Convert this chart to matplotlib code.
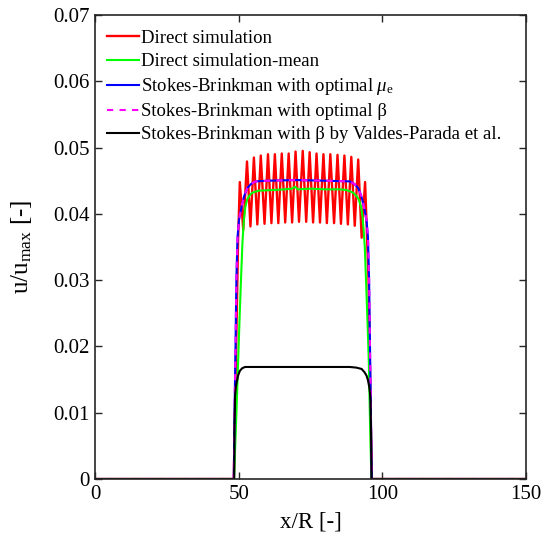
import matplotlib
matplotlib.use("Agg")
import matplotlib.pyplot as plt
from matplotlib.ticker import FuncFormatter

plt.rcParams['font.family'] = ['Liberation Serif', 'DejaVu Serif']
plt.rcParams['mathtext.fontset'] = 'custom'
plt.rcParams['mathtext.rm'] = 'Liberation Serif'
plt.rcParams['mathtext.it'] = 'Liberation Serif:italic'
plt.rcParams['mathtext.bf'] = 'Liberation Serif:bold'

# ---- data ----
# Direct simulation: oscillating profile (peaks / troughs)
red_peak_x = [50.4, 52.9, 55.3, 57.7, 60.2, 62.6, 65.0, 67.4, 69.8, 72.3, 74.7,
              77.1, 79.5, 81.9, 84.4, 86.8, 89.2, 91.6, 94.0]
red_peak_y = [0.0448, 0.0479, 0.0485, 0.0488, 0.0490, 0.0490, 0.0491, 0.0491, 0.0494,
              0.0495, 0.0493, 0.0491, 0.0490, 0.0490, 0.0489, 0.0488, 0.0486, 0.0482, 0.0448]
red_trough_x = [51.6, 54.1, 56.5, 59.0, 61.4, 63.8, 66.2, 68.6, 71.0, 73.5, 75.9,
                78.3, 80.7, 83.2, 85.6, 88.0, 90.4, 92.8]
red_trough_y = [0.0376, 0.0381, 0.0384, 0.0385, 0.0386, 0.0386, 0.0387, 0.0387, 0.0388,
                0.0388, 0.0387, 0.0387, 0.0386, 0.0386, 0.0385, 0.0384, 0.0382, 0.0364]
red_left_x = [0.0, 48.3, 49.8]
red_left_y = [0.0, 0.0, 0.036]
red_right_x = [95.2, 96.3, 150.0]
red_right_y = [0.030, 0.0, 0.0]

# Direct simulation - mean
green_x = [0.0, 48.4, 48.8, 49.3, 49.8, 50.3, 50.8, 51.3, 51.8, 52.3, 52.9, 53.8, 54.8,
           57.0, 62.0, 66.0, 68.6, 69.6, 70.6, 75.0, 80.0, 85.0, 87.5, 89.8, 91.0, 91.9,
           92.6, 93.1, 93.5, 93.9, 94.4, 94.9, 95.3, 95.6, 95.9, 96.2, 150.0]
green_y = [0.0, 0.0, 0.005, 0.011, 0.0176, 0.024, 0.030, 0.0355, 0.039, 0.0410, 0.0421,
           0.0428, 0.0432, 0.0435, 0.0436, 0.0437, 0.0438, 0.0441, 0.0437, 0.0438, 0.0437,
           0.0437, 0.0436, 0.0432, 0.0427, 0.0421, 0.0410, 0.0396, 0.0375, 0.035, 0.029,
           0.023, 0.0176, 0.011, 0.005, 0.0, 0.0]

# Stokes-Brinkman with optimal mu_e
blue_x = [0.0, 48.3, 48.6, 48.9, 49.2, 49.6, 50.1, 50.6, 51.3, 52.0, 53.0, 54.3, 55.9,
          60.0, 70.0, 80.0, 88.7, 90.3, 91.6, 92.6, 93.3, 94.0, 94.5, 95.0, 95.4, 95.7,
          96.0, 96.3, 150.0]
blue_y = [0.0, 0.0, 0.011, 0.020, 0.030, 0.0365, 0.0390, 0.0402, 0.0417, 0.0428, 0.0439,
          0.0445, 0.0449, 0.0450, 0.0451, 0.0450, 0.0449, 0.0445, 0.0439, 0.0428, 0.0417,
          0.0402, 0.0390, 0.0365, 0.030, 0.020, 0.011, 0.0, 0.0]

# Stokes-Brinkman with optimal beta
mag_x = [0.0, 48.3, 48.6, 48.9, 49.2, 49.6, 50.1, 50.6, 51.3, 52.0, 53.0, 54.3, 55.9,
         60.0, 70.0, 80.0, 88.7, 90.3, 91.6, 92.6, 93.3, 94.0, 94.5, 95.0, 95.4, 95.7,
         96.0, 96.3, 150.0]
mag_y = [0.0, 0.0, 0.011, 0.020, 0.030, 0.0365, 0.0390, 0.0402, 0.0417, 0.0428, 0.0439,
         0.0445, 0.0449, 0.0450, 0.0451, 0.0450, 0.0449, 0.0445, 0.0439, 0.0428, 0.0417,
         0.0402, 0.0390, 0.0365, 0.030, 0.020, 0.011, 0.0, 0.0]

# Stokes-Brinkman with beta by Valdes-Parada et al.
black_x = [0.0, 48.45, 48.55, 48.75, 49.0, 49.3, 49.8, 50.4, 51.2, 52.2, 60.0, 80.0,
           88.7, 91.0, 92.8, 93.8, 94.5, 95.0, 95.4, 95.7, 95.9, 96.1, 96.25, 150.0]
black_y = [0.0, 0.0, 0.008, 0.0125, 0.0138, 0.0146, 0.0156, 0.0163, 0.0167, 0.0169,
           0.0169, 0.0169, 0.0169, 0.0168, 0.0166, 0.0161, 0.0156, 0.0149, 0.0140,
           0.0130, 0.0116, 0.006, 0.0, 0.0]

labels = ['Direct simulation', 'Direct simulation-mean',
          r'Stokes-Brinkman with optimal $\mu_{\mathrm{e}}$',
          'Stokes-Brinkman with optimal \u03b2',
          'Stokes-Brinkman with \u03b2 by Valdes-Parada et al.']
xticks = [0, 50, 100, 150]
yticks = [0, 0.01, 0.02, 0.03, 0.04, 0.05, 0.06, 0.07]

# build red path by interleaving peaks and troughs
red_x = list(red_left_x)
red_y = list(red_left_y)
for i in range(len(red_peak_x)):
    red_x.append(red_peak_x[i]); red_y.append(red_peak_y[i])
    if i < len(red_trough_x):
        red_x.append(red_trough_x[i]); red_y.append(red_trough_y[i])
red_x += red_right_x
red_y += red_right_y

fig = plt.figure(figsize=(5.49, 5.34), dpi=100)
ax = fig.add_axes([95/549, 1-479/534, 431/549, 464/534])

lw = 1.5
ax.plot(red_x, red_y, color='#ff0000', lw=1.7, label=labels[0], solid_joinstyle='round')
ax.plot(green_x, green_y, color='#00ff00', lw=lw, label=labels[1])
ax.plot(blue_x, blue_y, color='#0000ff', lw=lw, label=labels[2])
ax.plot(mag_x, mag_y, color='#ff00ff', lw=lw, ls=(0, (3, 3)), label=labels[3])
ax.plot(black_x, black_y, color='black', lw=lw, label=labels[4])

ax.set_xlim(0, 150)
ax.set_ylim(0, 0.07)
ax.set_xticks(xticks)
ax.set_yticks(yticks)
ax.yaxis.set_major_formatter(FuncFormatter(lambda v, p: '0' if v == 0 else f'{v:.2f}'))
ax.tick_params(direction='in', top=True, right=True, length=5, width=1.0,
               labelsize=15, color='#262626', labelcolor='black', pad=4)
for s in ax.spines.values():
    s.set_color('#262626')
    s.set_linewidth(1.2)

ax.set_xlabel('x/R [-]', fontsize=16.5, labelpad=6)
ax.set_ylabel(r'u/u$_{\mathrm{max}}$ [-]', fontsize=18, labelpad=14)

leg = ax.legend(loc='upper left', bbox_to_anchor=(0.027, 0.968), frameon=False,
                fontsize=13.5, handlelength=1.7, handletextpad=0.15,
                labelspacing=0.32, borderpad=0, borderaxespad=0)

fig.savefig('out.png', dpi=100)
